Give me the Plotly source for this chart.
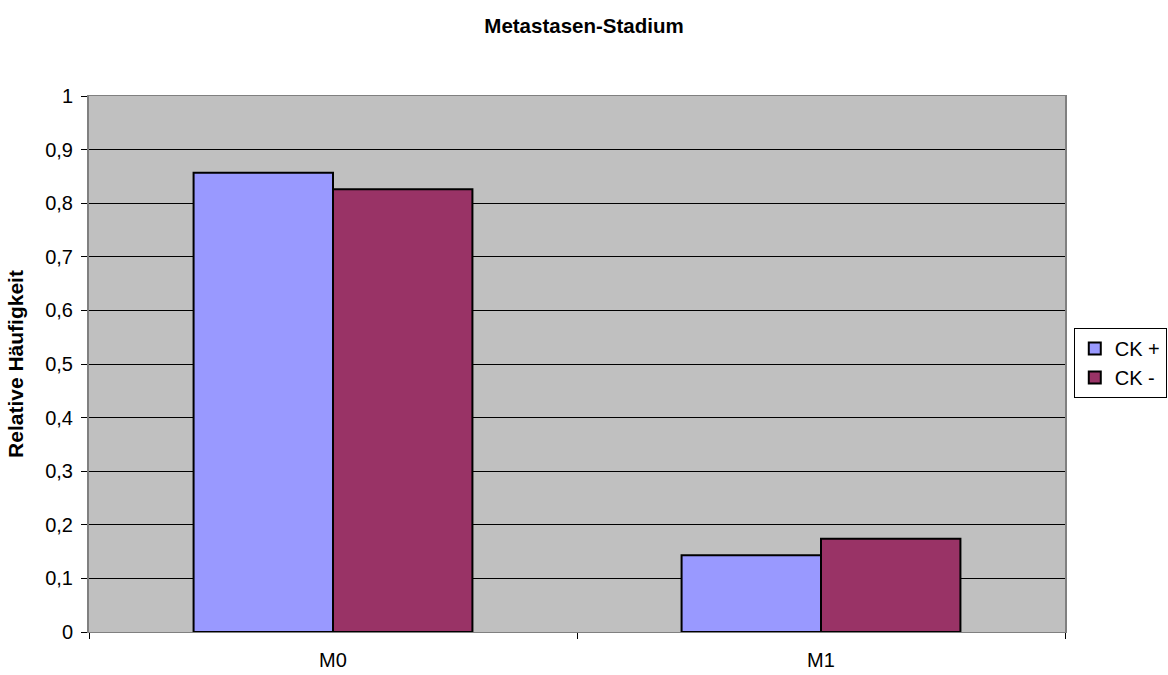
import plotly.graph_objects as go

categories = ["M0", "M1"]
ck_pos = [0.857, 0.143]
ck_neg = [0.826, 0.174]
y_ticks = [0, 0.1, 0.2, 0.3, 0.4, 0.5, 0.6, 0.7, 0.8, 0.9, 1]
y_labels = ["0", "0,1", "0,2", "0,3", "0,4", "0,5", "0,6", "0,7", "0,8", "0,9", "1"]

FONT = "Liberation Sans, Arial, sans-serif"

fig = go.Figure()
fig.add_trace(go.Bar(x=categories, y=ck_pos, name="CK +",
                     marker=dict(color="#9999FF", line=dict(color="black", width=2))))
fig.add_trace(go.Bar(x=categories, y=ck_neg, name="CK -",
                     marker=dict(color="#993366", line=dict(color="black", width=2))))

fig.update_layout(
    width=1168, height=675,
    margin=dict(l=89, r=103, t=96, b=43, autoexpand=False),
    paper_bgcolor="white",
    plot_bgcolor="#C0C0C0",
    barmode="group",
    bargap=0.4286,
    bargroupgap=0,
    font=dict(family=FONT, size=20, color="black"),
    title=dict(text="<b>Metastasen-Stadium</b>", x=0.5, xanchor="center",
               y=0.962, yanchor="middle", font=dict(size=20.5)),
    showlegend=True,
    legend=dict(x=1.009, xanchor="left", y=0.502, yanchor="middle",
                bordercolor="black", borderwidth=1, bgcolor="white",
                font=dict(size=20), itemsizing="constant", itemwidth=30,
                tracegroupgap=0),
    xaxis=dict(showline=True, linecolor="#808080", linewidth=1, mirror=True,
               ticks="outside", tickson="boundaries", ticklen=6,
               tickcolor="black", showgrid=False, ticklabelstandoff=10),
    yaxis=dict(range=[0, 1], tickvals=y_ticks, ticktext=y_labels,
               showline=True, linecolor="#808080", linewidth=2, mirror=True,
               ticks="outside", ticklen=6, tickcolor="black", ticklabelstandoff=4,
               showgrid=True, gridcolor="black", gridwidth=1, zeroline=False,
               title=dict(text="<b>Relative Häufigkeit</b>", font=dict(size=21), standoff=16)),
)

fig.write_html("out.html")
